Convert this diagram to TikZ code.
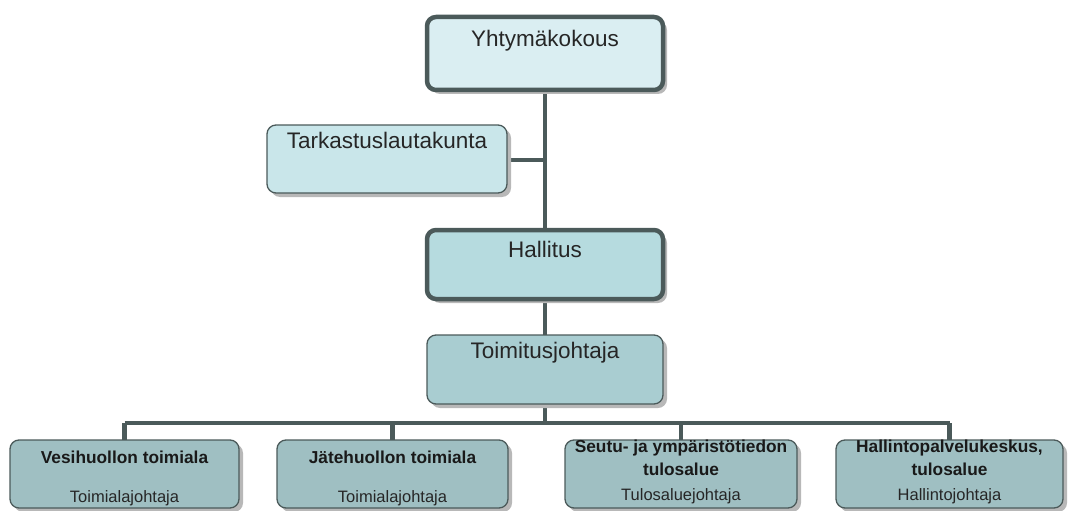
\documentclass[tikz,border=0pt]{standalone}
\usepackage{fontspec}
\setmainfont{Liberation Sans}
\usetikzlibrary{shadows,backgrounds}
\definecolor{edge}{HTML}{4B5A5A}
\definecolor{fA}{HTML}{DAEEF2}
\definecolor{fB}{HTML}{C9E6EA}
\definecolor{fC}{HTML}{B6DBDF}
\definecolor{fD}{HTML}{A9CDD1}
\definecolor{fE}{HTML}{9FBFC2}
\definecolor{shad}{HTML}{B8B8B8}
\tikzset{
  box/.style={draw=edge, rounded corners=9pt, inner sep=0pt, outer sep=0pt, anchor=north west,
    drop shadow={shadow xshift=4pt, shadow yshift=-4pt, fill=shad, opacity=1}},
  thickbox/.style={box, line width=4.5pt},
  thinbox/.style={box, line width=1.3pt},
  big/.style={font=\fontsize{22.5}{25}\selectfont, text=black!85, anchor=base, inner sep=0pt},
  ttl/.style={font=\fontsize{17.3}{20}\selectfont\bfseries, text=black!90, anchor=base, inner sep=0pt},
  sub/.style={font=\fontsize{16.5}{19}\selectfont, text=black!85, anchor=base, inner sep=0pt},
  conn/.style={draw=edge, line width=4.5pt},
}
\begin{document}
\begin{tikzpicture}[x=1pt,y=-1pt]
\useasboundingbox (0,0) rectangle (1074,511);
% boxes
\node[thickbox, fill=fA, minimum width=236pt, minimum height=73pt] (yht) at (427,17) {};
\node[thinbox, fill=fB, minimum width=240pt, minimum height=68pt] (tark) at (267,125) {};
\node[thickbox, fill=fC, minimum width=236pt, minimum height=69pt] (hall) at (427,230) {};
\node[thinbox, fill=fD, minimum width=236pt, minimum height=69pt] (toim) at (427,335) {};
\node[thinbox, fill=fE, minimum width=229pt, minimum height=68pt] (b1) at (10,440) {};
\node[thinbox, fill=fE, minimum width=231pt, minimum height=68pt] (b2) at (277,440) {};
\node[thinbox, fill=fE, minimum width=232pt, minimum height=68pt] (b3) at (565,440) {};
\node[thinbox, fill=fE, minimum width=227pt, minimum height=68pt] (b4) at (836,440) {};
% texts
\node[big] (tyht) at (545,47) {Yhtymäkokous};
\node[big] (ttark) at (387,148) {Tarkastuslautakunta};
\node[big] (thall) at (545,257) {Hallitus};
\node[big] (ttoim) at (545,358) {Toimitusjohtaja};
\node[ttl] (t1a) at (124.5,463) {Vesihuollon toimiala};
\node[sub] (t1b) at (124.5,502) {Toimialajohtaja};
\node[ttl] (t2a) at (392.5,463) {Jätehuollon toimiala};
\node[sub] (t2b) at (392.5,502) {Toimialajohtaja};
\node[ttl] (t3a) at (681,452) {Seutu- ja ympäristötiedon};
\node[ttl] (t3b) at (681,475) {tulosalue};
\node[sub] (t3c) at (681,500) {Tulosaluejohtaja};
\node[ttl] (t4a) at (949.5,452) {Hallintopalvelukeskus,};
\node[ttl] (t4b) at (949.5,475) {tulosalue};
\node[sub] (t4c) at (949.5,500) {Hallintojohtaja};
% connectors
\coordinate (bus) at (545,423);
\begin{scope}[on background layer]
\draw[conn] (yht.south) -- (hall.north);
\draw[conn] (tark.east |- 0,160) -- (545,160);
\draw[conn] (hall.south) -- (toim.north);
\draw[conn] (toim.south) -- (bus);
\draw[conn] (b1.north |- bus) -- (b4.north |- bus);
\draw[conn] (b1.north |- bus) -- (b1.north);
\draw[conn] (b2.north |- bus) -- (b2.north);
\draw[conn] (b3.north |- bus) -- (b3.north);
\draw[conn] (b4.north |- bus) -- (b4.north);
\end{scope}
\end{tikzpicture}
\end{document}
